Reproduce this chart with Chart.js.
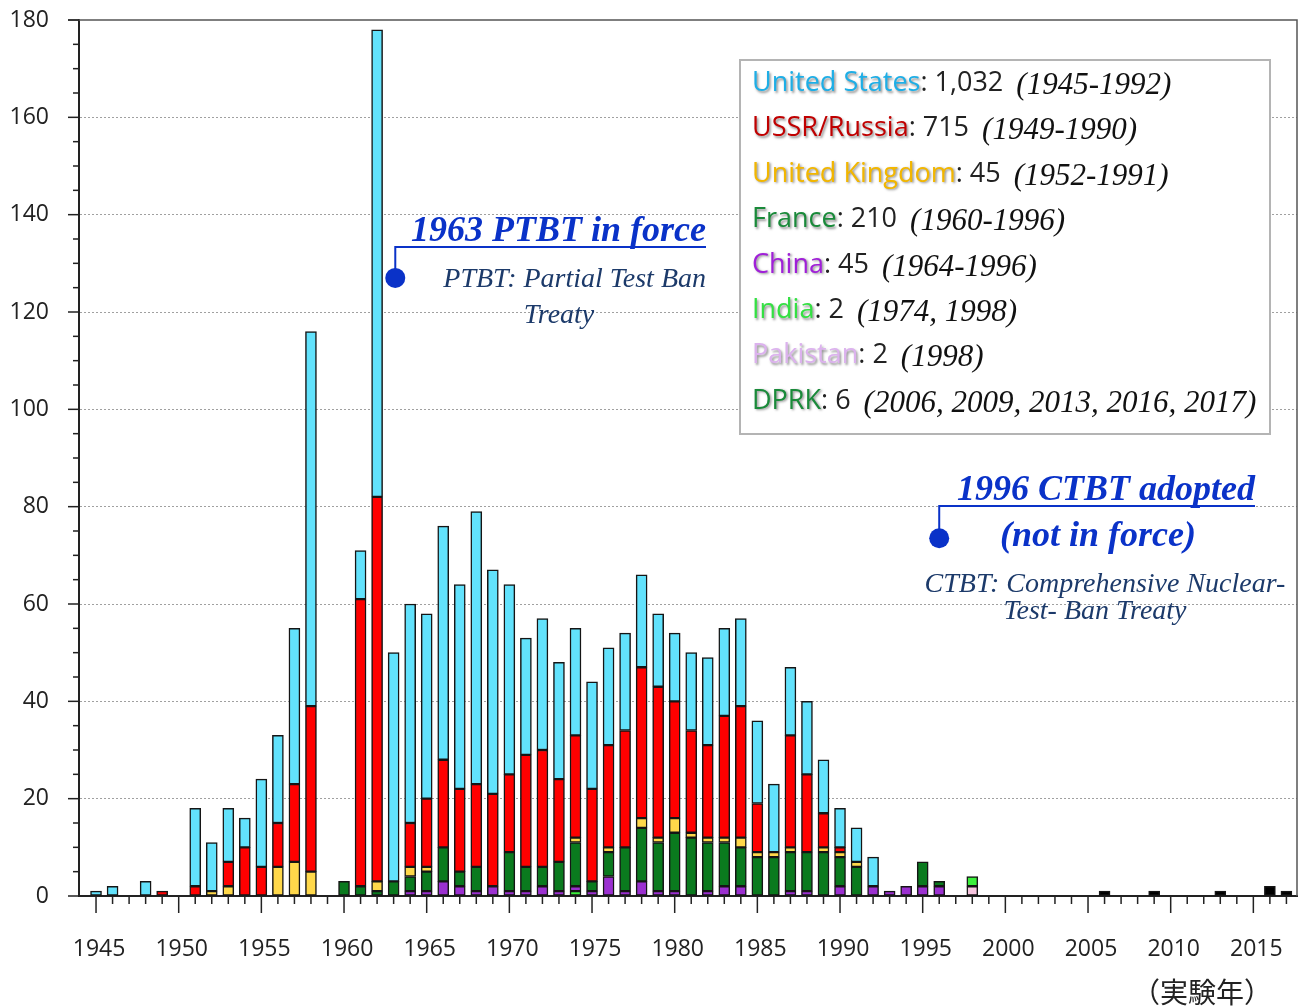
<!DOCTYPE html>
<html>
<head>
<meta charset="utf-8">
<script src="https://cdn.jsdelivr.net/npm/chart.js@4"></script>
<style>
  html, body { margin: 0; padding: 0; background: #fff; }
  #wrap { width: 1304px; height: 1008px; }
</style>
</head>
<body>
<div id="wrap"><canvas id="chart" width="1304" height="1008"></canvas></div>
<script>
// tests per year, 1945..1998 (DPRK separate)
const years = [
  1945, 1946, 1947, 1948, 1949, 1950, 1951, 1952, 1953, 1954,
  1955, 1956, 1957, 1958, 1959, 1960, 1961, 1962, 1963, 1964,
  1965, 1966, 1967, 1968, 1969, 1970, 1971, 1972, 1973, 1974,
  1975, 1976, 1977, 1978, 1979, 1980, 1981, 1982, 1983, 1984,
  1985, 1986, 1987, 1988, 1989, 1990, 1991, 1992, 1993, 1994,
  1995, 1996, 1997, 1998
];
const usa = [
  1, 2, 0, 3, 0, 0, 16, 10, 11, 6,
  18, 18, 32, 77, 0, 0, 10, 96, 47, 45,
  38, 48, 42, 56, 46, 39, 24, 27, 24, 22,
  22, 20, 20, 19, 15, 14, 16, 18, 18, 18,
  17, 14, 14, 15, 11, 8, 7, 6, 0, 0,
  0, 0, 0, 0
];
const ussr = [
  0, 0, 0, 0, 1, 0, 2, 0, 5, 10,
  6, 9, 16, 34, 0, 0, 59, 79, 0, 9,
  14, 18, 17, 17, 19, 16, 23, 24, 17, 21,
  19, 21, 24, 31, 31, 24, 21, 19, 25, 27,
  10, 0, 23, 16, 7, 1, 0, 0, 0, 0,
  0, 0, 0, 0
];
const uk = [
  0, 0, 0, 0, 0, 0, 0, 1, 2, 0,
  0, 6, 7, 5, 0, 0, 0, 2, 0, 2,
  1, 0, 0, 0, 0, 0, 0, 0, 0, 1,
  0, 1, 0, 2, 1, 3, 1, 1, 1, 2,
  1, 1, 1, 0, 1, 1, 1, 0, 0, 0,
  0, 0, 0, 0
];
const france = [
  0, 0, 0, 0, 0, 0, 0, 0, 0, 0,
  0, 0, 0, 0, 0, 3, 2, 1, 3, 3,
  4, 7, 3, 5, 0, 8, 5, 4, 6, 9,
  2, 5, 9, 11, 10, 12, 12, 10, 9, 8,
  8, 8, 8, 8, 9, 6, 6, 0, 0, 0,
  5, 1, 0, 0
];
const china = [
  0, 0, 0, 0, 0, 0, 0, 0, 0, 0,
  0, 0, 0, 0, 0, 0, 0, 0, 0, 1,
  1, 3, 2, 1, 2, 1, 1, 2, 1, 1,
  1, 4, 1, 3, 1, 1, 0, 1, 2, 2,
  0, 0, 1, 1, 0, 2, 0, 2, 1, 2,
  2, 2, 0, 0
];
const india = [
  0, 0, 0, 0, 0, 0, 0, 0, 0, 0,
  0, 0, 0, 0, 0, 0, 0, 0, 0, 0,
  0, 0, 0, 0, 0, 0, 0, 0, 0, 1,
  0, 0, 0, 0, 0, 0, 0, 0, 0, 0,
  0, 0, 0, 0, 0, 0, 0, 0, 0, 0,
  0, 0, 0, 2
];
const pakistan = [
  0, 0, 0, 0, 0, 0, 0, 0, 0, 0,
  0, 0, 0, 0, 0, 0, 0, 0, 0, 0,
  0, 0, 0, 0, 0, 0, 0, 0, 0, 0,
  0, 0, 0, 0, 0, 0, 0, 0, 0, 0,
  0, 0, 0, 0, 0, 0, 0, 0, 0, 0,
  0, 0, 0, 2
];
const dprkYears = [2006, 2009, 2013, 2016, 2017];
const dprk = [1, 1, 1, 2, 1];

const yTicks = [0, 20, 40, 60, 80, 100, 120, 140, 160, 180];
const xTickLabels = [1945, 1950, 1955, 1960, 1965, 1970, 1975, 1980, 1985, 1990, 1995, 2000, 2005, 2010, 2015];

const legendNames = ['United States', 'USSR/Russia', 'United Kingdom', 'France', 'China', 'India', 'Pakistan', 'DPRK'];
const legendCounts = ['1,032', '715', '45', '210', '45', '2', '2', '6'];
const legendPeriods = ['(1945-1992)', '(1949-1990)', '(1952-1991)', '(1960-1996)', '(1964-1996)', '(1974, 1998)', '(1998)', '(2006, 2009, 2013, 2016, 2017)'];
const legendColors = ['#1eaee6', '#c00000', '#f2b600', '#1a8a3a', '#a020d8', '#34e043', '#dcb2ee', '#1a8a3a'];

function pts(xs, vals) {
  const out = [];
  xs.forEach((yr, i) => { if (vals[i] > 0) out.push({x: yr, y: vals[i]}); });
  return out;
}

function ds(label, xs, vals, color) {
  return {
    label: label,
    data: pts(xs, vals),
    backgroundColor: color,
    borderColor: '#151515',
    borderWidth: 1.5,
    borderSkipped: false,
    barThickness: 11
  };
}

const sansFont = '"Open Sans", "DejaVu Sans", sans-serif';
const serifFont = '"Liberation Serif", "DejaVu Serif", serif';

const decor = {
  id: 'decor',
  afterDraw(chart) {
    const {ctx, chartArea: a, scales: {x, y}} = chart;
    ctx.save();

    // frame top/right
    ctx.strokeStyle = '#555';
    ctx.lineWidth = 1.5;
    ctx.beginPath();
    ctx.moveTo(68, a.top);
    ctx.lineTo(a.right, a.top);
    ctx.lineTo(a.right, a.bottom);
    ctx.stroke();

    // tick marks
    ctx.strokeStyle = '#222';
    ctx.lineWidth = 1.5;
    for (let v = 0; v <= 180; v += 5) {
      const py = y.getPixelForValue(v);
      const len = v % 20 === 0 ? 11 : 6;
      ctx.beginPath();
      ctx.moveTo(a.left - len, py);
      ctx.lineTo(a.left, py);
      ctx.stroke();
    }
    for (let yr = 1945; yr <= 2017; yr++) {
      const px = x.getPixelForValue(yr);
      const len = yr % 5 === 0 ? 17 : 8;
      ctx.beginPath();
      ctx.moveTo(px, a.bottom);
      ctx.lineTo(px, a.bottom + len);
      ctx.stroke();
    }

    // legend box
    ctx.fillStyle = '#fff';
    ctx.fillRect(740, 60, 530, 374);
    ctx.strokeStyle = '#b4b4b4';
    ctx.lineWidth = 2;
    ctx.strokeRect(740, 60, 530, 374);

    ctx.textAlign = 'left';
    ctx.textBaseline = 'alphabetic';
    legendNames.forEach((name, i) => {
      const base = 91 + i * 45.4;
      let cx = 752;
      ctx.font = '27px ' + sansFont;
      ctx.save();
      ctx.shadowColor = 'rgba(0,0,0,0.45)';
      ctx.shadowOffsetX = 1.5;
      ctx.shadowOffsetY = 1.5;
      ctx.shadowBlur = 2.5;
      ctx.fillStyle = legendColors[i];
      ctx.fillText(name, cx, base);
      ctx.restore();
      cx += ctx.measureText(name).width;
      ctx.fillStyle = '#222';
      const mid = ': ' + legendCounts[i] + ' ';
      ctx.fillText(mid, cx, base);
      cx += ctx.measureText(mid).width + 6;
      ctx.font = 'italic 31px ' + serifFont;
      ctx.fillStyle = '#111';
      ctx.fillText(legendPeriods[i], cx, base + 3);
    });

    // PTBT annotation
    const blue = '#0a32c8';
    const navy = '#1c3a6a';
    const p1x = x.getPixelForValue(1963.1), p1y = y.getPixelForValue(127);
    ctx.strokeStyle = blue;
    ctx.fillStyle = blue;
    ctx.lineWidth = 2;
    ctx.beginPath();
    ctx.moveTo(p1x, p1y);
    ctx.lineTo(p1x, 247);
    ctx.lineTo(706, 247);
    ctx.stroke();
    ctx.beginPath();
    ctx.arc(p1x, p1y, 10, 0, Math.PI * 2);
    ctx.fill();
    ctx.font = 'italic bold 36px ' + serifFont;
    ctx.textAlign = 'right';
    ctx.fillText('1963 PTBT in force', 706, 241);
    ctx.fillStyle = navy;
    ctx.font = 'italic 28px ' + serifFont;
    ctx.fillText('PTBT: Partial Test Ban', 706, 287);
    ctx.textAlign = 'center';
    ctx.fillText('Treaty', 559, 323);

    // CTBT annotation
    const p2x = x.getPixelForValue(1996), p2y = y.getPixelForValue(73.5);
    ctx.strokeStyle = blue;
    ctx.fillStyle = blue;
    ctx.beginPath();
    ctx.moveTo(p2x, p2y);
    ctx.lineTo(p2x, 506);
    ctx.lineTo(1255, 506);
    ctx.stroke();
    ctx.beginPath();
    ctx.arc(p2x, p2y, 10, 0, Math.PI * 2);
    ctx.fill();
    ctx.font = 'italic bold 36px ' + serifFont;
    ctx.textAlign = 'right';
    ctx.fillText('1996 CTBT adopted', 1255, 500);
    ctx.textAlign = 'center';
    ctx.fillText('(not in force)', 1098, 546);
    ctx.fillStyle = navy;
    ctx.font = 'italic 28px ' + serifFont;
    ctx.fillText('CTBT: Comprehensive Nuclear-', 1105, 592);
    ctx.fillText('Test- Ban Treaty', 1095, 619);

    // axis unit label
    ctx.fillStyle = '#222';
    ctx.font = '28px "Noto Sans CJK JP", sans-serif';
    ctx.textAlign = 'center';
    ctx.fillText('（実験年）', 1202, 1003);

    ctx.restore();
  }
};

const ctx = document.getElementById('chart').getContext('2d');

const chart = new Chart(ctx, {
  type: 'bar',
  data: {
    datasets: [
      ds('Pakistan', years, pakistan, '#f8c6e0'),
      ds('India', years, india, '#3cf03c'),
      ds('China', years, china, '#9b30d0'),
      ds('France', years, france, '#0a7a1e'),
      ds('United Kingdom', years, uk, '#ffd84a'),
      ds('USSR/Russia', years, ussr, '#ff0000'),
      ds('United States', years, usa, '#62e2fc'),
      ds('DPRK', dprkYears, dprk, '#000000')
    ]
  },
  options: {
    responsive: false,
    animation: false,
    devicePixelRatio: 1,
    layout: { padding: { top: 20, right: 7, left: 0, bottom: 0 } },
    plugins: {
      legend: { display: false },
      tooltip: { enabled: false }
    },
    scales: {
      x: {
        type: 'linear',
        min: 1943.97,
        max: 2017.64,
        stacked: true,
        offset: false,
        afterFit: (s) => {
          s.height = 112;
          s.paddingLeft = 0;
          s.paddingRight = 0;
        },
        afterBuildTicks: (s) => { s.ticks = xTickLabels.map(v => ({value: v})); },
        ticks: {
          autoSkip: false,
          maxRotation: 0,
          padding: 40,
          labelOffset: 3,
          color: '#222',
          font: { family: sansFont, size: 23 },
          callback: (v) => String(v)
        },
        grid: { display: false, drawTicks: false },
        border: { display: true, color: '#222', width: 2 }
      },
      y: {
        min: 0,
        max: 180,
        stacked: true,
        afterFit: (s) => {
          s.width = 79;
          s.paddingTop = 0;
          s.paddingBottom = 0;
        },
        afterBuildTicks: (s) => { s.ticks = yTicks.map(v => ({value: v})); },
        ticks: {
          padding: 30,
          color: '#222',
          font: { family: sansFont, size: 23 },
          callback: (v) => String(v)
        },
        grid: {
          drawTicks: false,
          lineWidth: 1,
          color: (c) => (c.tick && c.tick.value > 0 && c.tick.value < 180) ? '#a0a0a0' : 'rgba(0,0,0,0)'
        },
        border: { display: true, color: '#222', width: 2, dash: [2, 2] }
      }
    }
  },
  plugins: [decor]
});
</script>
</body>
</html>
